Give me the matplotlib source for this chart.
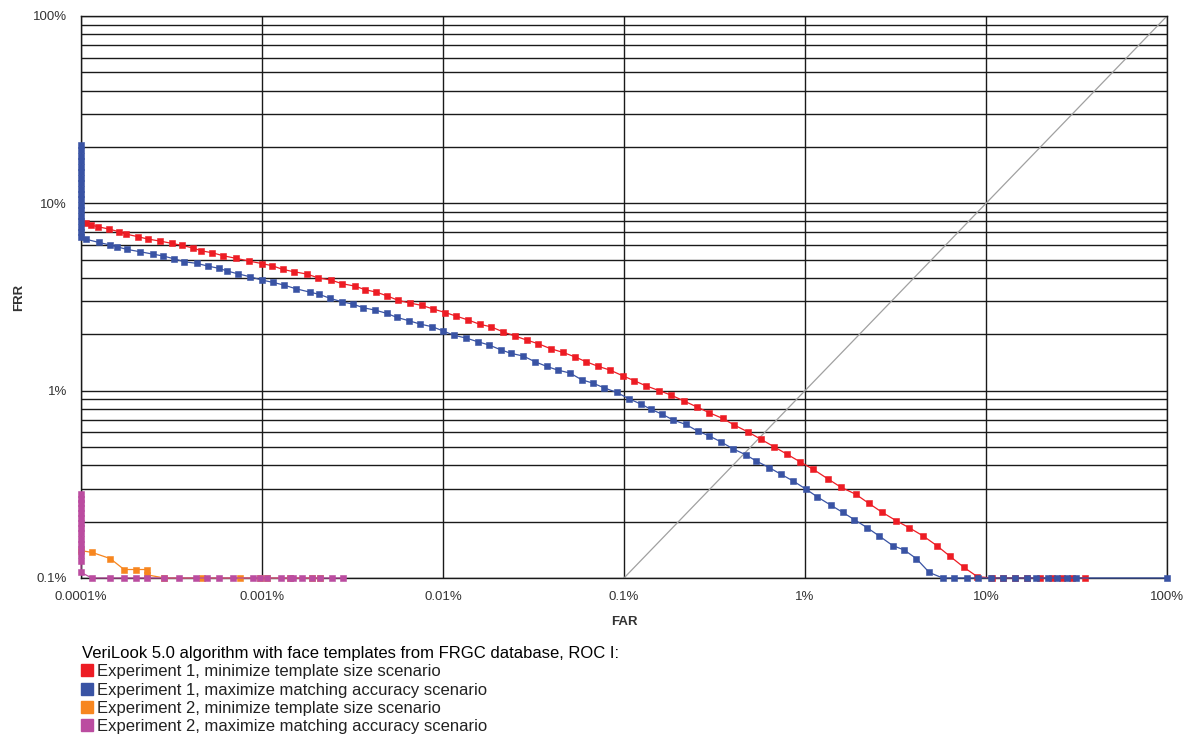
import matplotlib
matplotlib.use('Agg')
import matplotlib.pyplot as plt
from matplotlib.lines import Line2D
from matplotlib.ticker import FixedLocator, NullFormatter, LogLocator

plt.rcParams['font.family'] = ['Liberation Sans', 'DejaVu Sans']

# FAR / FRR values in percent
red_far = [0.000107, 0.000114, 0.000124, 0.000143, 0.000162, 0.000177, 0.000207, 0.000234, 0.000273,
           0.000317, 0.000360, 0.000417, 0.000460, 0.000531, 0.000611, 0.000719, 0.000848, 0.000996,
           0.00114, 0.00130, 0.00150, 0.00177, 0.00203, 0.00240, 0.00278, 0.00325, 0.00372, 0.00427,
           0.00489, 0.00566, 0.00657, 0.00763, 0.00884,
           0.0103, 0.0118, 0.0138, 0.0160, 0.0184, 0.0214, 0.0250, 0.0290, 0.0336, 0.0394, 0.0459,
           0.0534, 0.0617, 0.0721, 0.0837, 0.0991,
           0.114, 0.132, 0.157, 0.182, 0.215, 0.252, 0.296, 0.351, 0.407, 0.486, 0.571, 0.674, 0.792, 0.939,
           1.112, 1.345, 1.581, 1.906, 2.257, 2.653, 3.183, 3.769, 4.503, 5.341, 6.326, 7.558, 8.951,
           10.75, 12.41, 14.46, 16.85, 19.88, 23.07, 26.20, 29.75, 35.24]
red_frr = [7.876, 7.656, 7.499, 7.290, 7.052, 6.855, 6.632, 6.447, 6.290, 6.115, 5.967, 5.771, 5.583,
           5.447, 5.250, 5.086, 4.919, 4.771,
           4.643, 4.442, 4.313, 4.193, 4.007, 3.895, 3.721, 3.618, 3.457, 3.361, 3.211, 3.034, 2.935,
           2.853, 2.727,
           2.612, 2.502, 2.382, 2.259, 2.193, 2.063, 1.956, 1.863, 1.780, 1.674, 1.602, 1.517, 1.427,
           1.348, 1.288, 1.197,
           1.130, 1.062, 0.999, 0.947, 0.880, 0.820, 0.762, 0.711, 0.655, 0.601, 0.550, 0.502, 0.459, 0.417,
           0.380, 0.337, 0.305, 0.280, 0.250, 0.225, 0.2025, 0.1853, 0.1675, 0.149, 0.1306, 0.1139, 0.1017,
           0.1, 0.1, 0.1, 0.1, 0.1, 0.1, 0.1, 0.1, 0.1]

blue_far = [0.0001, 0.0001, 0.0001, 0.0001, 0.0001, 0.0001, 0.0001, 0.0001, 0.0001,
            0.0001, 0.0001, 0.0001, 0.0001, 0.0001, 0.0001, 0.0001, 0.0001, 0.0001,
            0.000107, 0.000125, 0.000145, 0.000158, 0.000179, 0.000212, 0.000249, 0.000285, 0.000326,
            0.000371, 0.000436, 0.000501, 0.000579, 0.000643, 0.000734, 0.000859, 0.000996,
            0.00115, 0.00132, 0.00154, 0.00183, 0.00207, 0.00238, 0.00276, 0.00317, 0.00363, 0.00421,
            0.00489, 0.00555, 0.00649, 0.00746, 0.00873, 0.00996,
            0.0115, 0.0134, 0.0156, 0.0180, 0.0208, 0.0238, 0.0278, 0.0322, 0.0374, 0.0430, 0.0503,
            0.0584, 0.0672, 0.0775, 0.0911,
            0.106, 0.124, 0.141, 0.162, 0.187, 0.219, 0.255, 0.295, 0.342, 0.402, 0.470, 0.536, 0.635,
            0.740, 0.862,
            1.013, 1.169, 1.387, 1.616, 1.873, 2.214, 2.573, 3.051, 3.537, 4.119, 4.862, 5.766,
            6.630, 7.805, 9.07, 10.70, 12.37, 14.46, 16.79, 18.89, 22.09, 24.58, 27.92, 31.42, 100]
blue_frr = [20.5, 19.2, 18.0, 16.8, 15.7, 14.7, 13.7, 12.8, 12.0, 11.2, 10.5, 9.8, 9.2, 8.6, 8.0,
            7.5, 7.0, 6.6,
            6.424, 6.191, 5.989, 5.865, 5.680, 5.515, 5.361, 5.231, 5.061, 4.878, 4.783, 4.626, 4.498,
            4.350, 4.208, 4.056, 3.895,
            3.786, 3.663, 3.499, 3.361, 3.267, 3.110, 2.982, 2.900, 2.771, 2.693, 2.587, 2.462, 2.362,
            2.268, 2.193, 2.088,
            1.976, 1.909, 1.824, 1.752, 1.654, 1.581, 1.530, 1.427, 1.348, 1.288, 1.242, 1.143, 1.098,
            1.036, 0.979,
            0.907, 0.848, 0.795, 0.750, 0.697, 0.661, 0.609, 0.574, 0.534, 0.488, 0.455, 0.422, 0.388,
            0.357, 0.329,
            0.298, 0.271, 0.245, 0.224, 0.205, 0.185, 0.1675, 0.149, 0.141, 0.127, 0.107, 0.1,
            0.1, 0.1, 0.1, 0.1, 0.1, 0.1, 0.1, 0.1, 0.1, 0.1, 0.1, 0.1, 0.1]

orange_far = [0.0001, 0.000115, 0.000145, 0.000173, 0.000201, 0.000231, 0.000231, 0.000289,
              0.000464, 0.000756, 0.000975, 0.00106, 0.00143, 0.00188, 0.00209]
orange_frr = [0.14, 0.137, 0.127, 0.111, 0.111, 0.111, 0.104, 0.1,
              0.1, 0.1, 0.1, 0.1, 0.1, 0.1, 0.1]

magenta_far = [0.0001, 0.0001, 0.0001, 0.0001, 0.0001, 0.0001, 0.0001, 0.0001, 0.0001, 0.0001,
               0.0001, 0.0001, 0.0001, 0.0001, 0.0001,
               0.000115, 0.000145, 0.000173, 0.000201, 0.000231, 0.000289, 0.000348, 0.000430,
               0.000495, 0.000579, 0.000689, 0.000895, 0.000975, 0.00106, 0.00127, 0.00143,
               0.00149, 0.00166, 0.00188, 0.00209, 0.00243, 0.00279]
magenta_frr = [0.281, 0.265, 0.25, 0.236, 0.222, 0.21, 0.197, 0.185, 0.173, 0.162, 0.152, 0.142,
               0.132, 0.123, 0.107,
               0.1, 0.1, 0.1, 0.1, 0.1, 0.1, 0.1, 0.1, 0.1, 0.1, 0.1, 0.1, 0.1, 0.1, 0.1, 0.1,
               0.1, 0.1, 0.1, 0.1, 0.1, 0.1]

eer_line = [0.1, 100]

x_ticks = [0.0001, 0.001, 0.01, 0.1, 1, 10, 100]
x_labels = ['0.0001%', '0.001%', '0.01%', '0.1%', '1%', '10%', '100%']
y_ticks = [0.1, 1, 10, 100]
y_labels = ['0.1%', '1%', '10%', '100%']

series_names = ['Experiment 1, minimize template size scenario',
                'Experiment 1, maximize matching accuracy scenario',
                'Experiment 2, minimize template size scenario',
                'Experiment 2, maximize matching accuracy scenario']
colors = ['#ed1c24', '#3953a4', '#f7861f', '#bb4ca0']

fig = plt.figure(figsize=(11.89, 7.36), dpi=100)
ax = fig.add_axes([81 / 1189, 1 - 578 / 736, 1086 / 1189, 562 / 736])

ax.set_xscale('log')
ax.set_yscale('log')
ax.set_xlim(0.0001, 100)
ax.set_ylim(0.1, 100)

# grid: decades on x, decades + 2..9 on y
ax.xaxis.set_major_locator(FixedLocator(x_ticks))
ax.xaxis.set_minor_locator(FixedLocator([]))
ax.yaxis.set_major_locator(FixedLocator(y_ticks))
ax.yaxis.set_minor_locator(LogLocator(base=10, subs=range(2, 10)))
ax.yaxis.set_minor_formatter(NullFormatter())
ax.set_xticklabels(x_labels)
ax.set_yticklabels(y_labels)
ax.grid(True, which='major', axis='both', color='#1a1a1a', linewidth=1.0)
ax.grid(True, which='minor', axis='y', color='#1a1a1a', linewidth=1.0)
ax.set_axisbelow(True)
ax.tick_params(which='both', length=0, labelsize=9.5, labelcolor='#333333')
ax.tick_params(axis='x', pad=9)
ax.tick_params(axis='y', pad=10)
for s in ax.spines.values():
    s.set_color('#1a1a1a')
    s.set_linewidth(1.0)

ax.plot(eer_line, eer_line, color='#a0a0a0', linewidth=0.9, zorder=2)

all_far = [red_far, blue_far, orange_far, magenta_far]
all_frr = [red_frr, blue_frr, orange_frr, magenta_frr]
for far, frr, c in zip(all_far, all_frr, colors):
    ax.plot(far, frr, color=c, linewidth=0.9, marker='s', markersize=4.8,
            markeredgewidth=0.4, markeredgecolor=c, clip_on=False, zorder=3)

ax.set_xlabel('FAR', fontsize=9.5, fontweight='bold', color='#333333', labelpad=10)
ax.set_ylabel('FRR', fontsize=9.5, fontweight='bold', color='#333333', labelpad=6)

handles = [Line2D([], [], linestyle='none', marker='s', markersize=8, color=c) for c in colors]
fig.legend(handles, series_names, loc='upper left', bbox_to_anchor=(82 / 1189, 1 - 646 / 736),
           frameon=False, title='VeriLook 5.0 algorithm with face templates from FRGC database, ROC I:',
           alignment='left', fontsize=12, title_fontsize=12, handlelength=0.6, handletextpad=0.3,
           labelspacing=0.2, borderpad=0, borderaxespad=0, labelcolor='#222222')

fig.savefig('out.png', dpi=100)
